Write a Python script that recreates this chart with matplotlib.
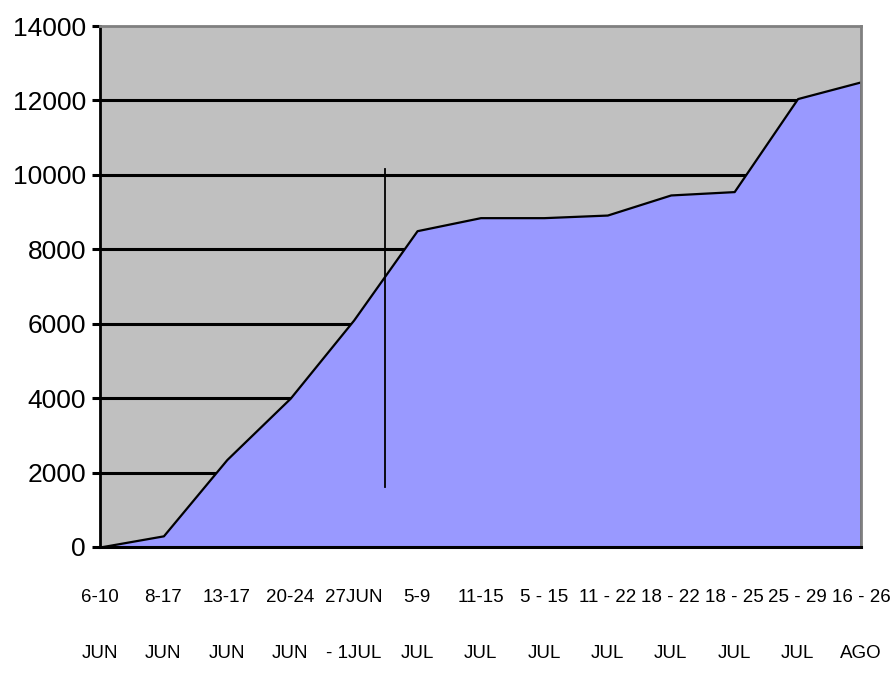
import matplotlib
matplotlib.use('Agg')
import matplotlib.pyplot as plt

# Data
week_labels = ['6-10\nJUN', '8-17\nJUN', '13-17\nJUN', '20-24\nJUN', '27JUN\n- 1JUL',
               '5-9\nJUL', '11-15\nJUL', '5 - 15\nJUL', '11 - 22\nJUL', '18 - 22\nJUL',
               '18 - 25\nJUL', '25 - 29\nJUL', '16 - 26\nAGO']
totals = [0, 300, 2350, 4000, 6100, 8500, 8850, 8850, 8920, 9460, 9550, 12050, 12500]
y_ticks = [0, 2000, 4000, 6000, 8000, 10000, 12000, 14000]

# the lone vertical line drawn over the chart
marker_x = [4.5, 4.5]
marker_y = [1600, 10150]

font = ['Liberation Sans', 'DejaVu Sans']

fig = plt.figure(figsize=(8.93, 6.8), dpi=100)
ax = fig.add_axes([100 / 893, 133 / 680, 761 / 893, 521 / 680])
ax.set_facecolor('#C0C0C0')

x = list(range(len(totals)))
for v in y_ticks[1:-1]:
    ax.axhline(v, color='black', lw=2.2, zorder=1)
ax.fill_between(x, totals, 0, facecolor='#9999FF', edgecolor='black', lw=1.6, zorder=2)
ax.plot(marker_x, marker_y, color='black', lw=1.3, zorder=3)

ax.set_xlim(0, 12)
ax.set_ylim(0, 14000)
ax.set_yticks(y_ticks)
ax.set_yticklabels([str(v) for v in y_ticks], family=font, fontsize=19)
ax.set_xticks(x)
ax.set_xticklabels(week_labels, family=font, fontsize=13.5, linespacing=4.0)
ax.tick_params(axis='y', direction='out', length=6, width=2.2, pad=4)
ax.tick_params(axis='x', length=0, pad=30)

for side in ['top', 'right']:
    ax.spines[side].set_color('#808080')
    ax.spines[side].set_linewidth(2)
ax.spines['left'].set_linewidth(2)
ax.spines['bottom'].set_linewidth(2.2)

fig.savefig('out.png', dpi=100)
